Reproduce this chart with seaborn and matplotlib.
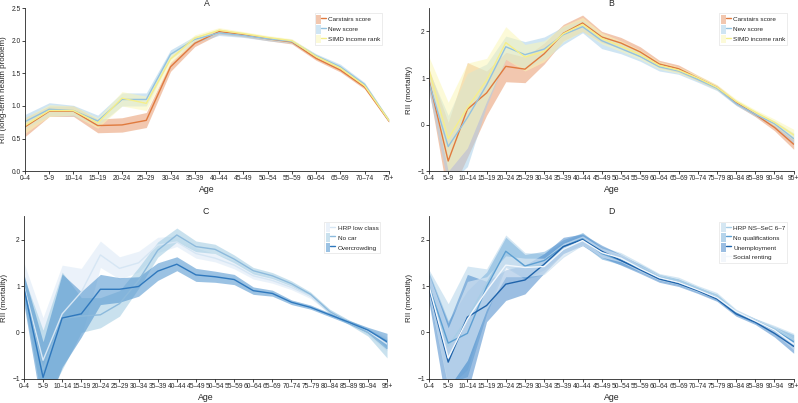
import numpy as np
import pandas as pd
import matplotlib
matplotlib.use('Agg')
import matplotlib.pyplot as plt
import seaborn as sns
from matplotlib.patches import Patch
from matplotlib.lines import Line2D
from matplotlib.legend_handler import HandlerTuple

# --- Data ---
ages_a = ['0–4', '5–9', '10–14', '15–19', '20–24', '25–29', '30–34', '35–39', '40–44',
          '45–49', '50–54', '55–59', '60–64', '65–69', '70–74', '75+']
ages_b = ['0–4', '5–9', '10–14', '15–19', '20–24', '25–29', '30–34', '35–39', '40–44',
          '45–49', '50–54', '55–59', '60–64', '65–69', '70–74', '75–79', '80–84',
          '85–89', '90–94', '95+']

# Panel A: RII long-term health problem
a_cars_mean = [0.68, 0.92, 0.92, 0.70, 0.71, 0.78, 1.60, 1.96, 2.14, 2.09, 2.03, 1.98, 1.73, 1.55, 1.29, 0.77]
a_cars_lo   = [0.53, 0.84, 0.84, 0.59, 0.60, 0.67, 1.53, 1.91, 2.10, 2.06, 2.00, 1.95, 1.70, 1.52, 1.26, 0.75]
a_cars_hi   = [0.82, 1.00, 1.00, 0.80, 0.82, 0.90, 1.67, 2.01, 2.18, 2.12, 2.06, 2.01, 1.76, 1.58, 1.32, 0.80]
a_new_mean  = [0.76, 0.95, 0.93, 0.77, 1.10, 1.10, 1.79, 2.02, 2.12, 2.08, 2.03, 1.99, 1.77, 1.60, 1.33, 0.78]
a_new_lo    = [0.65, 0.85, 0.85, 0.70, 1.00, 1.00, 1.72, 1.97, 2.08, 2.05, 2.00, 1.96, 1.74, 1.57, 1.30, 0.76]
a_new_hi    = [0.87, 1.05, 1.01, 0.86, 1.20, 1.20, 1.86, 2.07, 2.16, 2.11, 2.06, 2.02, 1.80, 1.64, 1.36, 0.80]
a_simd_mean = [0.70, 0.93, 0.93, 0.74, 1.12, 1.04, 1.72, 2.04, 2.16, 2.11, 2.05, 2.00, 1.76, 1.58, 1.31, 0.78]
a_simd_lo   = [0.58, 0.84, 0.86, 0.66, 1.00, 0.93, 1.65, 1.99, 2.12, 2.08, 2.02, 1.97, 1.73, 1.55, 1.28, 0.76]
a_simd_hi   = [0.82, 1.02, 1.00, 0.82, 1.22, 1.15, 1.79, 2.09, 2.20, 2.14, 2.08, 2.03, 1.79, 1.61, 1.34, 0.80]

# Panel B: RII mortality, area scores
b_cars_mean = [0.95, -0.78, 0.33, 0.68, 1.25, 1.19, 1.52, 1.96, 2.18, 1.88, 1.75, 1.56, 1.30, 1.20, 1.00, 0.80, 0.47, 0.22, -0.06, -0.42]
b_cars_lo   = [0.75, -1.60, -0.70, 0.20, 0.92, 0.90, 1.30, 1.80, 2.00, 1.76, 1.64, 1.45, 1.22, 1.12, 0.94, 0.75, 0.42, 0.17, -0.13, -0.53]
b_cars_hi   = [1.20, 0.05, 1.33, 1.15, 1.55, 1.45, 1.75, 2.15, 2.35, 2.00, 1.87, 1.67, 1.38, 1.28, 1.06, 0.85, 0.52, 0.27, 0.02, -0.30]
b_new_mean  = [0.90, -0.47, 0.15, 0.85, 1.67, 1.50, 1.62, 1.93, 2.10, 1.80, 1.63, 1.46, 1.24, 1.15, 0.97, 0.78, 0.45, 0.22, 0.02, -0.30]
b_new_lo    = [0.70, -1.30, -0.90, 0.40, 1.40, 1.20, 1.40, 1.72, 1.97, 1.63, 1.52, 1.36, 1.15, 1.08, 0.91, 0.73, 0.41, 0.18, -0.05, -0.42]
b_new_hi    = [1.15, 0.20, 1.10, 1.30, 1.90, 1.78, 1.88, 2.10, 2.25, 1.92, 1.75, 1.56, 1.32, 1.22, 1.03, 0.83, 0.50, 0.27, 0.08, -0.18]
b_simd_mean = [1.17, -0.30, 0.36, 0.95, 1.76, 1.45, 1.57, 1.95, 2.15, 1.85, 1.68, 1.50, 1.27, 1.17, 1.00, 0.80, 0.50, 0.27, 0.05, -0.22]
b_simd_lo   = [0.95, -1.00, -0.50, 0.50, 1.40, 1.15, 1.35, 1.78, 2.00, 1.73, 1.57, 1.40, 1.19, 1.10, 0.94, 0.75, 0.45, 0.22, -0.02, -0.33]
b_simd_hi   = [1.45, 0.48, 1.32, 1.42, 2.10, 1.72, 1.80, 2.12, 2.30, 1.97, 1.80, 1.60, 1.35, 1.24, 1.06, 0.86, 0.55, 0.32, 0.12, -0.10]

# Panel C: RII mortality, household indicators
c_hrp_mean  = [1.00, -0.60, 0.40, 0.87, 1.67, 1.38, 1.50, 1.88, 1.95, 1.70, 1.60, 1.45, 1.22, 1.12, 0.97, 0.78, 0.45, 0.22, 0.03, -0.25]
c_hrp_lo    = [0.70, -1.60, -0.70, -0.10, 1.40, 1.15, 1.30, 1.72, 1.85, 1.60, 1.52, 1.37, 1.15, 1.06, 0.92, 0.73, 0.40, 0.18, -0.05, -0.40]
c_hrp_hi    = [1.50, 0.32, 1.45, 1.38, 1.97, 1.63, 1.75, 2.05, 2.08, 1.82, 1.70, 1.55, 1.30, 1.19, 1.03, 0.84, 0.50, 0.27, 0.10, -0.10]
c_car_mean  = [0.95, -0.80, 0.30, 0.35, 0.38, 0.62, 1.12, 1.77, 2.10, 1.85, 1.79, 1.58, 1.33, 1.22, 1.05, 0.82, 0.45, 0.22, 0.00, -0.35]
c_car_lo    = [0.70, -1.60, -0.80, 0.00, 0.10, 0.35, 0.95, 1.62, 1.95, 1.74, 1.70, 1.50, 1.26, 1.16, 1.00, 0.77, 0.40, 0.17, -0.08, -0.55]
c_car_hi    = [1.20, 0.05, 1.30, 0.75, 0.75, 0.90, 1.40, 1.95, 2.25, 1.97, 1.90, 1.67, 1.40, 1.29, 1.11, 0.87, 0.50, 0.27, 0.08, -0.15]
c_over_mean = [0.95, -0.97, 0.31, 0.40, 0.93, 0.93, 0.99, 1.32, 1.47, 1.24, 1.20, 1.14, 0.90, 0.84, 0.65, 0.54, 0.38, 0.22, 0.05, -0.20]
c_over_lo   = [0.60, -1.80, -0.75, -0.10, 0.60, 0.65, 0.78, 1.12, 1.33, 1.10, 1.08, 1.03, 0.82, 0.78, 0.60, 0.50, 0.34, 0.18, -0.01, -0.35]
c_over_hi   = [1.25, -0.20, 1.26, 0.88, 1.25, 1.18, 1.20, 1.50, 1.63, 1.38, 1.32, 1.25, 0.98, 0.91, 0.70, 0.59, 0.42, 0.26, 0.11, -0.02]

# Panel D: RII mortality, individual/household indicators
d_nssec_mean = [1.00, -0.30, 0.30, 1.05, 1.78, 1.42, 1.45, 1.78, 2.00, 1.72, 1.60, 1.40, 1.20, 1.12, 0.95, 0.80, 0.45, 0.25, 0.08, -0.15]
d_nssec_lo   = [0.70, -1.20, -0.80, 0.55, 1.45, 1.15, 1.25, 1.62, 1.88, 1.58, 1.50, 1.32, 1.13, 1.05, 0.89, 0.74, 0.40, 0.20, 0.00, -0.30]
d_nssec_hi   = [1.35, 0.62, 1.43, 1.37, 2.10, 1.72, 1.70, 1.95, 2.15, 1.85, 1.72, 1.50, 1.27, 1.19, 1.01, 0.86, 0.50, 0.30, 0.15, -0.02]
d_qual_mean  = [1.00, -0.23, -0.02, 0.98, 1.75, 1.43, 1.55, 1.85, 2.02, 1.70, 1.55, 1.38, 1.18, 1.08, 0.92, 0.75, 0.43, 0.25, 0.05, -0.20]
d_qual_lo    = [0.70, -1.10, -0.95, 0.40, 1.40, 1.15, 1.35, 1.70, 1.90, 1.58, 1.46, 1.30, 1.11, 1.02, 0.86, 0.70, 0.38, 0.20, -0.03, -0.35]
d_qual_hi    = [1.30, 0.25, 0.90, 1.30, 2.05, 1.68, 1.75, 2.00, 2.15, 1.82, 1.65, 1.47, 1.25, 1.15, 0.98, 0.81, 0.48, 0.30, 0.12, -0.05]
d_unemp_mean = [0.95, -0.64, 0.33, 0.58, 1.04, 1.13, 1.47, 1.85, 2.00, 1.75, 1.55, 1.35, 1.15, 1.05, 0.90, 0.72, 0.40, 0.22, -0.02, -0.30]
d_unemp_lo   = [0.65, -1.80, -1.30, 0.23, 0.69, 0.83, 1.28, 1.70, 1.87, 1.62, 1.45, 1.27, 1.08, 0.99, 0.84, 0.67, 0.35, 0.17, -0.10, -0.45]
d_unemp_hi   = [1.25, 0.20, 1.25, 1.10, 1.35, 1.45, 1.70, 2.05, 2.12, 1.88, 1.68, 1.45, 1.22, 1.11, 0.96, 0.77, 0.45, 0.27, 0.06, -0.15]
d_rent_mean  = [1.00, -0.55, 0.28, 0.90, 1.45, 1.40, 1.42, 1.79, 1.98, 1.72, 1.60, 1.38, 1.18, 1.08, 0.92, 0.75, 0.45, 0.25, 0.05, -0.25]
d_rent_lo    = [0.75, -1.20, -0.60, 0.50, 1.20, 1.20, 1.25, 1.65, 1.88, 1.62, 1.52, 1.31, 1.12, 1.03, 0.87, 0.71, 0.41, 0.21, -0.02, -0.37]
d_rent_hi    = [1.25, 0.10, 1.10, 1.20, 1.65, 1.60, 1.60, 1.92, 2.08, 1.82, 1.68, 1.45, 1.24, 1.13, 0.97, 0.80, 0.49, 0.29, 0.12, -0.13]


def long_df(ages, series):
    rows = []
    for name, (m, lo, hi) in series.items():
        for i, age in enumerate(ages):
            rows.append({'pos': i, 'Age': age, 'group': name, 'rii': m[i], 'lo': lo[i], 'hi': hi[i]})
    return pd.DataFrame(rows)


area_cols = {'Carstairs score': ('#e07a3e', '#e89a6e'), 'New score': ('#93c2e0', '#a9d0ea'),
             'SIMD income rank': ('#f6ef8a', '#fbf7b8')}

panels = [
    ('A', ages_a, 'RII (long-term health problem)', (0, 2.5), [0, 0.5, 1.0, 1.5, 2.0, 2.5],
     {'Carstairs score': (a_cars_mean, a_cars_lo, a_cars_hi),
      'New score': (a_new_mean, a_new_lo, a_new_hi),
      'SIMD income rank': (a_simd_mean, a_simd_lo, a_simd_hi)}, area_cols),
    ('B', ages_b, 'RII (mortality)', (-1, 2.5), [-1, 0, 1, 2],
     {'Carstairs score': (b_cars_mean, b_cars_lo, b_cars_hi),
      'New score': (b_new_mean, b_new_lo, b_new_hi),
      'SIMD income rank': (b_simd_mean, b_simd_lo, b_simd_hi)}, area_cols),
    ('C', ages_b, 'RII (mortality)', (-1, 2.5), [-1, 0, 1, 2],
     {'HRP low class': (c_hrp_mean, c_hrp_lo, c_hrp_hi),
      'No car': (c_car_mean, c_car_lo, c_car_hi),
      'Overcrowding': (c_over_mean, c_over_lo, c_over_hi)},
     {'HRP low class': ('#d6e6f4', '#dbe9f6'), 'No car': ('#8dbadc', '#9ecae1'),
      'Overcrowding': ('#2f78bd', '#4a90cc')}),
    ('D', ages_b, 'RII (mortality)', (-1, 2.5), [-1, 0, 1, 2],
     {'HRP NS–SeC 6–7': (d_nssec_mean, d_nssec_lo, d_nssec_hi),
      'No qualifications': (d_qual_mean, d_qual_lo, d_qual_hi),
      'Unemployment': (d_unemp_mean, d_unemp_lo, d_unemp_hi),
      'Social renting': (d_rent_mean, d_rent_lo, d_rent_hi)},
     {'HRP NS–SeC 6–7': ('#a6cde6', '#b3d4ea'), 'No qualifications': ('#5d9fd2', '#79b1dc'),
      'Unemployment': ('#1f63aa', '#4a8acb'), 'Social renting': ('#f2f7fc', '#e8f0f8')}),
]

# --- Plot ---
sns.set_style('ticks')
plt.rcParams['font.family'] = ['Liberation Sans', 'DejaVu Sans']
fig = plt.figure(figsize=(7.98, 4.03), dpi=100)
boxes = [[0.0313, 0.575, 0.456, 0.405], [0.5376, 0.575, 0.457, 0.405],
         [0.0300, 0.060, 0.455, 0.403], [0.5376, 0.060, 0.457, 0.403]]

for (letter, ages, ylab, ylim, yticks, series, colors), box in zip(panels, boxes):
    ax = fig.add_axes(box)
    df = long_df(ages, series)
    handles = []
    for name in series:
        sub = df[df['group'] == name]
        line_c, band_c = colors[name]
        ax.fill_between(sub['pos'], sub['lo'], sub['hi'], color=band_c, alpha=0.55, lw=0)
        handles.append((Patch(facecolor=band_c, alpha=0.55, edgecolor='none'),
                        Line2D([], [], color=line_c, lw=1.0)))
    pal = {n: colors[n][0] for n in series}
    sns.lineplot(data=df, x='pos', y='rii', hue='group', palette=pal, lw=1.0,
                 ax=ax, legend=False, estimator=None, errorbar=None)
    ax.set_xlim(0, len(ages) - 1)
    ax.set_ylim(*ylim)
    ax.set_xticks(range(len(ages)))
    ax.set_xticklabels(ages, fontsize=4.8)
    ax.set_yticks(yticks)
    if letter == 'A':
        ax.set_yticklabels([f'{v:.1f}' for v in yticks], fontsize=4.8)
    else:
        ax.set_yticklabels([str(v).replace('-', '−') for v in yticks], fontsize=4.8)
    ax.tick_params(length=2, width=0.6, pad=1)
    ax.set_xlabel('Age', fontsize=6.3, labelpad=2)
    ax.set_ylabel(ylab, fontsize=5.8, labelpad=3)
    ax.set_title(letter, fontsize=6.3, pad=0.5)
    for s in ['left', 'bottom']:
        ax.spines[s].set_linewidth(0.6)
    sns.despine(ax=ax)
    leg = ax.legend(handles, list(series), handler_map={tuple: HandlerTuple(ndivide=None, pad=0)},
                    loc='upper right', bbox_to_anchor=(0.985, 0.975), fontsize=4.6, frameon=True,
                    fancybox=False, handlelength=1.5, handleheight=1.7, handletextpad=0.4,
                    labelspacing=0.2, borderpad=0.25, borderaxespad=0.2)
    leg.get_frame().set_edgecolor('#dddddd')
    leg.get_frame().set_linewidth(0.5)

plt.savefig('out.png', dpi=100)
